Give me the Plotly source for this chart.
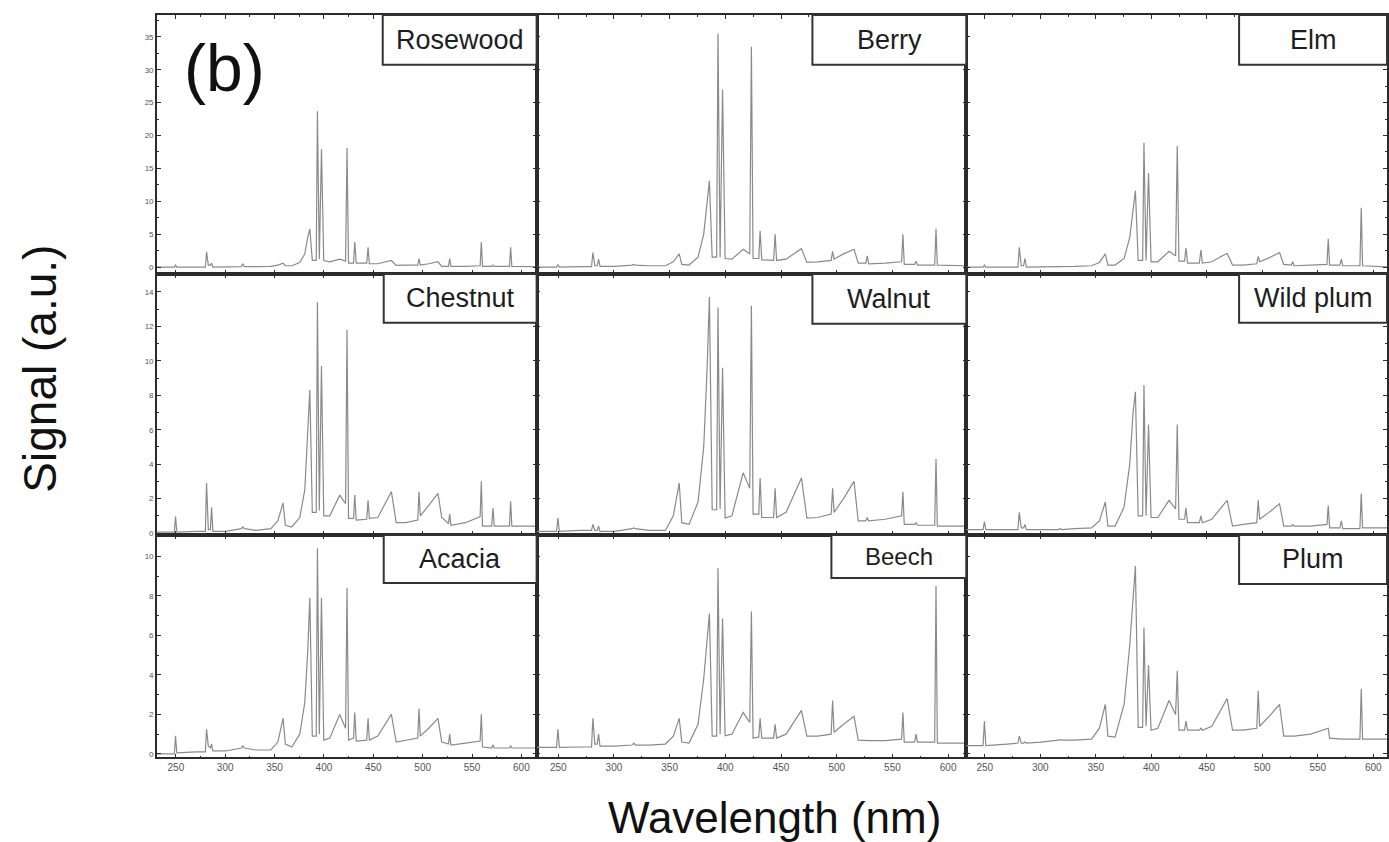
import plotly.graph_objects as go

# ---------------- data ----------------
WAVELENGTH = [230.8, 248.5, 249.7, 251.0, 270.3, 279.9, 281.1, 282.9, 285.0, 286.2, 287.5, 300.6,
              316.3, 317.8, 319.4, 331.0, 346.2, 353.3, 358.6, 360.9, 367.4, 375.5, 380.6,
              383.6, 385.7, 388.2, 392.2, 393.4, 395.3, 397.5, 399.8, 405.9, 416.0, 421.9,
              423.4, 424.9, 430.0, 431.2, 432.7, 443.3, 444.7, 446.0, 454.5, 468.3, 473.2,
              482.8, 495.0, 496.3, 497.6, 506.1, 515.5, 519.3, 526.1, 527.4, 528.6, 543.5,
              558.2, 559.4, 560.6, 569.9, 571.2, 572.5, 587.9, 589.1, 590.3, 615.4]

ROSEWOOD = [0.0, 0.0, 0.3, 0.0, 0.0, 0.0, 2.3, 0.3, 0.3, 0.6, 0.0, 0.0,
            0.05, 0.5, 0.05, 0.05, 0.1, 0.3, 0.6, 0.2, 0.2, 0.7, 2.0, 4.5, 5.8,
            1.0, 1.0, 23.7, 1.2, 17.9, 1.0, 0.8, 1.2, 0.9, 18.1, 0.6,
            0.6, 3.8, 0.6, 0.6, 3.0, 0.5, 0.5, 1.0, 0.25, 0.3, 0.3, 1.3,
            0.3, 0.5, 0.8, 0.1, 0.1, 1.3, 0.1, 0.1, 0.2, 3.8, 0.1, 0.1,
            0.3, 0.1, 0.1, 3.0, 0.1, 0.05]

BERRY = [0.0, 0.0, 0.4, 0.0, 0.05, 0.05, 2.2, 0.2, 0.2, 1.2, 0.1, 0.1,
         0.3, 0.4, 0.3, 0.2, 0.2, 0.8, 2.0, 0.4, 0.3, 1.5, 5.0, 10.0, 13.1,
         1.5, 1.5, 35.5, 1.5, 27.0, 1.3, 1.2, 2.7, 2.0, 33.5, 1.3,
         1.3, 5.5, 1.1, 1.0, 5.0, 1.0, 1.2, 2.8, 0.7, 0.8, 1.0, 2.4,
         1.2, 2.0, 2.7, 0.6, 0.6, 1.7, 0.5, 0.6, 0.8, 5.0, 0.4, 0.4,
         0.9, 0.3, 0.3, 5.8, 0.3, 0.2]

ELM = [0.0, 0.0, 0.3, 0.0, 0.0, 0.0, 3.0, 0.2, 0.2, 1.3, 0.0, 0.0,
       0.05, 0.1, 0.05, 0.1, 0.2, 0.7, 2.0, 0.3, 0.3, 1.3, 4.5, 9.0, 11.6,
       1.0, 1.0, 18.9, 1.0, 14.3, 0.8, 0.8, 2.4, 1.7, 18.4, 0.9,
       0.9, 2.9, 0.6, 0.6, 2.6, 0.6, 0.8, 2.1, 0.3, 0.3, 0.5, 1.6,
       0.8, 1.4, 2.2, 0.4, 0.3, 0.8, 0.2, 0.3, 0.4, 4.3, 0.3, 0.3,
       1.2, 0.2, 0.2, 9.0, 0.2, 0.0]

CHESTNUT = [0.05, 0.05, 0.96, 0.05, 0.1, 0.1, 2.9, 0.2, 0.2, 1.5, 0.1, 0.1,
            0.25, 0.35, 0.25, 0.15, 0.25, 0.7, 1.75, 0.45, 0.35, 0.9, 2.5, 6.0, 8.3,
            1.2, 1.2, 13.4, 1.3, 9.7, 1.0, 1.0, 2.2, 1.7, 11.8, 0.85,
            0.85, 2.2, 0.75, 0.8, 1.9, 0.85, 0.9, 2.4, 0.6, 0.6, 0.75, 2.4,
            1.0, 1.6, 2.3, 0.9, 0.55, 1.1, 0.45, 0.6, 0.95, 3.0, 0.4, 0.4,
            1.45, 0.4, 0.4, 1.85, 0.4, 0.4]

WALNUT = [0.1, 0.1, 0.87, 0.1, 0.15, 0.15, 0.5, 0.15, 0.15, 0.4, 0.1, 0.1,
          0.25, 0.3, 0.25, 0.15, 0.15, 1.0, 2.9, 0.6, 0.5, 1.8, 5.0, 9.5, 13.7,
          1.35, 1.35, 13.1, 1.4, 9.6, 0.87, 1.0, 3.5, 2.6, 13.2, 1.1,
          1.1, 3.2, 0.9, 0.9, 2.6, 0.9, 1.2, 3.2, 0.87, 0.9, 1.1, 2.6,
          1.2, 2.0, 3.0, 0.7, 0.7, 0.9, 0.7, 0.8, 1.0, 2.4, 0.5, 0.5,
          0.6, 0.45, 0.45, 4.3, 0.4, 0.4]

WILD_PLUM = [0.2, 0.2, 0.67, 0.2, 0.2, 0.2, 1.2, 0.3, 0.3, 0.5, 0.2, 0.2,
             0.2, 0.25, 0.2, 0.25, 0.3, 0.7, 1.8, 0.4, 0.4, 1.5, 4.0, 7.0, 8.2,
             1.0, 1.0, 8.6, 1.0, 6.3, 0.9, 0.9, 1.9, 1.4, 6.3, 0.8,
             0.8, 1.45, 0.6, 0.6, 1.0, 0.6, 0.8, 1.9, 0.4, 0.5, 0.6, 1.9,
             0.8, 1.2, 1.7, 0.4, 0.4, 0.5, 0.4, 0.4, 0.5, 1.6, 0.3, 0.3,
             0.7, 0.25, 0.25, 2.3, 0.3, 0.3]

ACACIA = [0.0, 0.0, 0.92, 0.05, 0.1, 0.1, 1.25, 0.4, 0.3, 0.5, 0.15, 0.15,
          0.3, 0.4, 0.3, 0.2, 0.2, 0.6, 1.8, 0.5, 0.35, 1.0, 2.6, 5.2, 7.9,
          0.9, 0.9, 10.4, 1.0, 7.9, 0.7, 0.8, 2.0, 1.3, 8.4, 0.7,
          0.8, 2.1, 0.65, 0.7, 1.8, 0.7, 0.9, 2.0, 0.6, 0.7, 0.8, 2.3,
          0.9, 1.3, 1.8, 0.6, 0.5, 1.0, 0.45, 0.55, 0.65, 2.0, 0.35, 0.3,
          0.45, 0.3, 0.3, 0.4, 0.3, 0.3]

BEECH = [0.33, 0.33, 1.25, 0.33, 0.35, 0.35, 1.8, 0.5, 0.5, 1.0, 0.4, 0.4,
         0.45, 0.55, 0.45, 0.45, 0.5, 0.9, 1.8, 0.6, 0.55, 1.5, 3.8, 6.0, 7.1,
         0.9, 0.9, 9.4, 1.0, 6.85, 0.92, 1.0, 2.1, 1.6, 7.2, 0.8,
         0.85, 1.8, 0.8, 0.8, 1.5, 0.8, 1.0, 2.2, 0.9, 0.9, 1.0, 2.7,
         1.1, 1.5, 1.9, 0.7, 0.67, 0.7, 0.67, 0.67, 0.75, 2.1, 0.6, 0.6,
         1.0, 0.6, 0.6, 8.5, 0.55, 0.55]

PLUM = [0.42, 0.42, 1.66, 0.42, 0.5, 0.55, 0.9, 0.55, 0.55, 0.6, 0.55, 0.6,
        0.7, 0.72, 0.7, 0.7, 0.75, 1.3, 2.5, 0.9, 0.85, 2.5, 5.5, 8.0, 9.5,
        1.34, 1.34, 6.4, 1.4, 4.5, 1.2, 1.3, 2.7, 2.0, 4.2, 1.2,
        1.2, 1.66, 1.2, 1.2, 1.3, 1.2, 1.4, 2.8, 1.2, 1.2, 1.3, 3.2,
        1.4, 1.9, 2.5, 0.9, 0.9, 0.9, 0.9, 1.0, 1.3, 1.3, 0.8, 0.75,
        0.75, 0.75, 0.75, 3.3, 0.75, 0.75]

WOOD_NAMES = ["Rosewood", "Berry", "Elm",
              "Chestnut", "Walnut", "Wild plum",
              "Acacia", "Beech", "Plum"]
SPECTRA = [ROSEWOOD, BERRY, ELM, CHESTNUT, WALNUT, WILD_PLUM, ACACIA, BEECH, PLUM]

X_TICKS = [250, 300, 350, 400, 450, 500, 550, 600]
Y_TICKS = [[0, 5, 10, 15, 20, 25, 30, 35],
           [0, 2, 4, 6, 8, 10, 12, 14],
           [0, 2, 4, 6, 8, 10]]

# ---------------- layout constants ----------------
W, H = 1389, 842
COL_PX = [(157, 537), (537, 967), (967, 1388)]
ROW_PX = [(15, 275), (275, 537), (537, 760)]
X_RANGES = [[230.8, 615.4], [230.6, 616.3], [233.4, 612.3]]
Y_RANGES = [[-1.06, 38.33], [-0.12, 15.04], [-0.17, 11.07]]
Y_MINOR = [2.5, 1, 1]
# label boxes (px): x0, x1, y0, y1, font size
BOXES = [(383, 537, 15, 65, 27), (813, 967, 15, 65, 27), (1240, 1388, 15, 65, 27),
         (384, 537, 275, 324, 27), (813, 967, 275, 325, 27), (1240, 1388, 275, 324, 27),
         (384, 537, 537, 585, 27), (832, 967, 537, 580, 24), (1240, 1388, 537, 586, 27)]

FONT = "Arial, Liberation Sans, sans-serif"
LINE_COLOR = "#8a8a8a"
AXIS_COLOR = "#2b2b2b"

fig = go.Figure()
annotations = []
shapes = []

for i, (name, sig) in enumerate(zip(WOOD_NAMES, SPECTRA)):
    r, c = divmod(i, 3)
    k = i + 1
    xa = "x" if k == 1 else f"x{k}"
    ya = "y" if k == 1 else f"y{k}"
    fig.add_trace(go.Scatter(x=WAVELENGTH, y=sig, mode="lines", xaxis=xa, yaxis=ya,
                             line=dict(color=LINE_COLOR, width=1.2), showlegend=False,
                             name=name))
    x0, x1 = COL_PX[c]
    y0, y1 = ROW_PX[r]
    xkey = "xaxis" if k == 1 else f"xaxis{k}"
    ykey = "yaxis" if k == 1 else f"yaxis{k}"
    fig.layout[xkey] = dict(
        domain=[x0 / W, x1 / W], range=X_RANGES[c], anchor=ya,
        showline=True, linecolor=AXIS_COLOR, linewidth=1.5, mirror="ticks",
        ticks="inside", ticklen=4, tickcolor=AXIS_COLOR, tickwidth=1,
        tickvals=X_TICKS, showticklabels=(r == 2),
        tickfont=dict(family=FONT, size=10, color="#555"),
        minor=dict(ticks="inside", ticklen=2, dtick=25, tick0=225, tickcolor=AXIS_COLOR),
        showgrid=False, zeroline=False)
    fig.layout[ykey] = dict(
        domain=[1 - y1 / H, 1 - y0 / H], range=Y_RANGES[r], anchor=xa,
        showline=True, linecolor=AXIS_COLOR, linewidth=1.5, mirror="ticks",
        ticks="inside", ticklen=4, tickcolor=AXIS_COLOR, tickwidth=1,
        tickvals=Y_TICKS[r], showticklabels=(c == 0),
        tickfont=dict(family=FONT, size=8, color="#555"),
        minor=dict(ticks="inside", ticklen=2, dtick=Y_MINOR[r], tick0=0, tickcolor=AXIS_COLOR),
        showgrid=False, zeroline=False)

    bx0, bx1, by0, by1, fs = BOXES[i]
    shapes.append(dict(type="rect", xref="paper", yref="paper",
                       x0=bx0 / W, x1=bx1 / W, y0=1 - by1 / H, y1=1 - by0 / H,
                       line=dict(color="#333", width=2), fillcolor="white", layer="above"))
    annotations.append(dict(text=name, xref="paper", yref="paper",
                            x=(bx0 + bx1) / 2 / W, y=1 - (by0 + by1) / 2 / H,
                            xanchor="center", yanchor="middle", showarrow=False,
                            font=dict(family=FONT, size=fs, color="#1e1e1e")))

annotations.append(dict(text="(b)", xref="paper", yref="paper", x=225 / W, y=1 - 68 / H,
                        xanchor="center", yanchor="middle", showarrow=False,
                        font=dict(family=FONT, size=66, color="#111")))
annotations.append(dict(text="Signal (a.u.)", xref="paper", yref="paper", x=40 / W,
                        y=1 - 370 / H, xanchor="center", yanchor="middle", textangle=-90,
                        showarrow=False, font=dict(family=FONT, size=46, color="#111")))
annotations.append(dict(text="Wavelength (nm)", xref="paper", yref="paper", x=775 / W,
                        y=1 - 820 / H, xanchor="center", yanchor="middle",
                        showarrow=False, font=dict(family=FONT, size=44, color="#111")))

fig.update_layout(width=W, height=H, margin=dict(l=0, r=0, t=0, b=0),
                  paper_bgcolor="white", plot_bgcolor="white",
                  annotations=annotations, shapes=shapes, showlegend=False)

fig.write_html("out.html", config={"displayModeBar": False},
               post_script="document.body.style.margin='0';document.body.style.overflow='hidden';")
